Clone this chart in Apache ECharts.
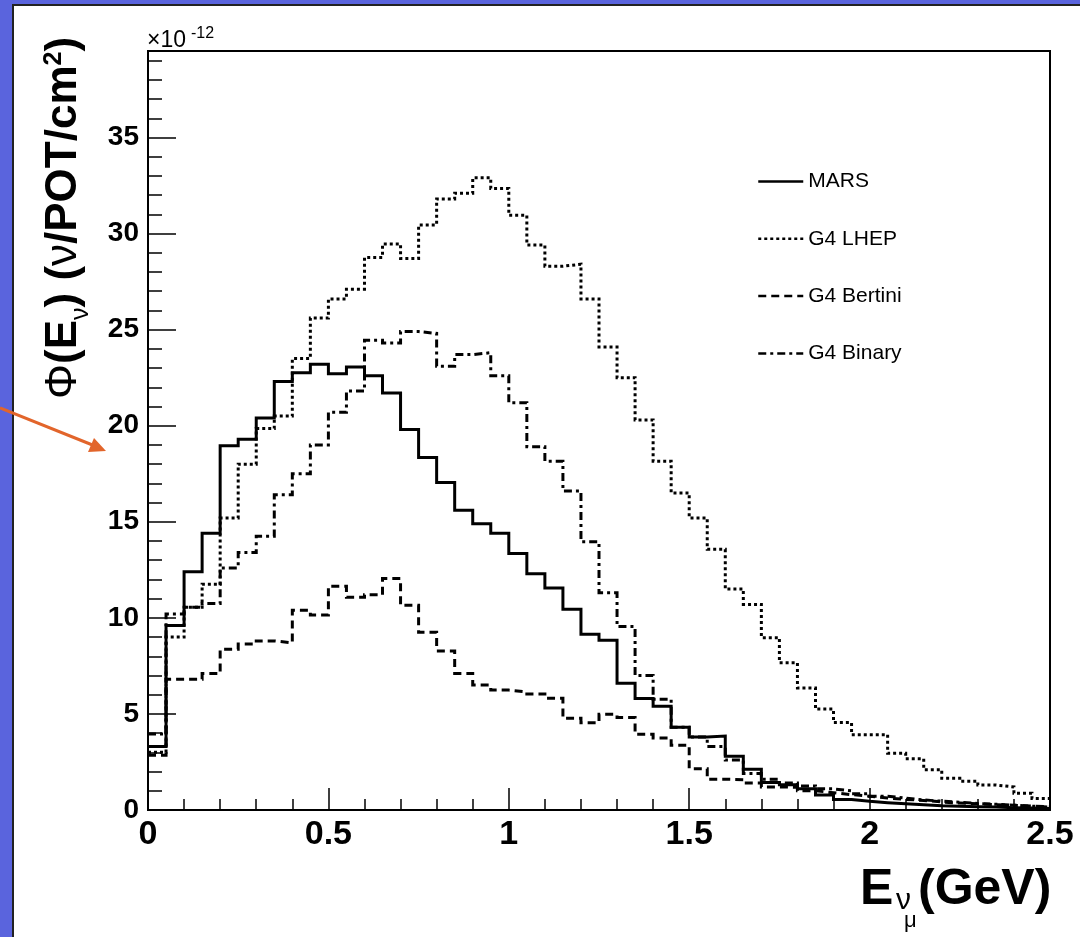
<!DOCTYPE html>
<html>
<head>
<meta charset="utf-8">
<script src="https://cdn.jsdelivr.net/npm/echarts@6/dist/echarts.min.js"></script>
<style>
  html, body { margin: 0; padding: 0; background: #5a64dd; }
  #chart { width: 1080px; height: 937px; }
</style>
</head>
<body>
<div id="chart"></div>
<script>
// ---- Data (flux per 0.05 GeV bin, units of 1e-12 nu/POT/cm^2) ----
const BIN_WIDTH = 0.05;
const N_BINS = 50;
const xTickLabels = ['0', '0.5', '1', '1.5', '2', '2.5'];
const yTickLabels = ['0', '5', '10', '15', '20', '25', '30', '35'];
const seriesNames = ['MARS', 'G4 LHEP', 'G4 Bertini', 'G4 Binary'];

const mars = [3.3, 9.6, 12.4, 14.4, 18.95, 19.3, 20.4, 22.3, 22.75, 23.2,
  22.7, 23.05, 22.6, 21.7, 19.8, 18.35, 17.05, 15.6, 14.9, 14.4,
  13.35, 12.3, 11.55, 10.45, 9.15, 8.83, 6.6, 5.8, 5.4, 4.3,
  3.8, 3.85, 2.8, 2.12, 1.43, 1.32, 1.1, 0.78, 0.55, 0.45,
  0.38, 0.32, 0.27, 0.22, 0.2, 0.17, 0.15, 0.12, 0.1, 0.08];

const lhep = [3.0, 9.0, 10.55, 11.75, 15.2, 18.0, 19.85, 20.5, 23.5, 25.6,
  26.6, 27.1, 28.75, 29.45, 28.7, 30.45, 31.8, 32.1, 32.9, 32.35,
  30.95, 29.4, 28.3, 28.4, 26.6, 24.1, 22.5, 20.3, 18.15, 16.5,
  15.2, 13.57, 11.5, 10.7, 8.97, 7.66, 6.35, 5.25, 4.55, 3.92,
  3.92, 2.95, 2.67, 2.1, 1.65, 1.5, 1.3, 1.2, 0.87, 0.6];

const bertini = [2.85, 6.8, 6.8, 7.1, 8.36, 8.64, 8.8, 8.7, 10.4, 10.15,
  11.65, 11.07, 11.2, 12.05, 10.65, 9.25, 8.28, 7.11, 6.5, 6.24,
  6.15, 6.04, 5.81, 4.77, 4.54, 4.98, 4.82, 3.94, 3.75, 3.37,
  2.15, 1.6, 1.58, 1.4, 1.2, 1.18, 1.0, 0.9, 0.8, 0.72,
  0.62, 0.55, 0.5, 0.42, 0.36, 0.32, 0.28, 0.25, 0.2, 0.18];

const binary = [3.95, 10.2, 10.55, 10.75, 12.6, 13.4, 14.25, 16.4, 17.5, 19.0,
  20.7, 21.8, 24.45, 24.3, 24.9, 24.8, 23.1, 23.7, 23.8, 22.6,
  21.2, 18.9, 18.15, 16.6, 13.96, 11.3, 9.55, 7.0, 5.76, 4.3,
  3.8, 3.3, 2.6, 1.9, 1.6, 1.4, 1.25, 1.1, 1.0, 0.85,
  0.72, 0.62, 0.52, 0.46, 0.4, 0.34, 0.3, 0.25, 0.2, 0.15];

// ---- Build histogram step data from bin edges ----
const binEdges = Array.from({length: N_BINS + 1}, (_, i) => +(i * BIN_WIDTH).toFixed(2));
function toSteps(vals) {
  const pts = vals.map((v, i) => [binEdges[i], v]);
  pts.push([binEdges[N_BINS], vals[vals.length - 1]]);
  return pts;
}

const FONT = '"Liberation Sans", Arial, Helvetica, sans-serif';
const chart = echarts.init(document.getElementById('chart'), null, {renderer: 'canvas'});

const lineStyles = [
  {type: 'solid', width: 3},
  {type: [3, 3], width: 3},
  {type: [8, 5], width: 3},
  {type: [8, 4, 3, 4], width: 3}
];
const allData = [mars, lhep, bertini, binary];

const series = seriesNames.map((name, k) => ({
  name: name,
  type: 'line',
  step: 'end',
  symbol: 'none',
  data: toSteps(allData[k]),
  lineStyle: Object.assign({color: '#000', cap: 'butt', join: 'miter'}, lineStyles[k]),
  itemStyle: {color: '#000'},
  z: 5 + k
}));

// ---- y-axis title built from measured text pieces (rotated group) ----
const mctx = document.createElement('canvas').getContext('2d');
function textW(t, font) { mctx.font = font; return mctx.measureText(t).width; }
const TF = 44, SF = 25;
const yTitleParts = [
  {t: 'Φ', font: TF + 'px ' + FONT, dy: -15},
  {t: '(E', font: 'bold ' + TF + 'px ' + FONT, dy: -15},
  {t: 'ν', font: SF + 'px ' + FONT, dy: 2},
  {t: ') (', font: 'bold ' + TF + 'px ' + FONT, dy: -15},
  {t: 'ν', font: TF + 'px ' + FONT, dy: -15},
  {t: '/POT/cm', font: 'bold ' + TF + 'px ' + FONT, dy: -15},
  {t: '2', font: 'bold ' + SF + 'px ' + FONT, dy: -25},
  {t: ')', font: 'bold ' + TF + 'px ' + FONT, dy: -15}
];
const widths = yTitleParts.map(p => textW(p.t, p.font));
const totalW = widths.reduce((a, b) => a + b, 0);
let cx = -totalW / 2;
const yTitleChildren = yTitleParts.map((p, i) => {
  const el = {type: 'text', x: cx, y: p.dy,
    style: {text: p.t, font: p.font, fill: '#000', textAlign: 'left', textVerticalAlign: 'middle'}};
  cx += widths[i];
  return el;
});

const option = {
  animation: false,
  backgroundColor: 'transparent',
  grid: {
    left: 148, right: 30, top: 51, bottom: 127,
    show: true, borderColor: '#000', borderWidth: 2, backgroundColor: 'transparent'
  },
  legend: {
    orient: 'vertical',
    left: 757, top: 171, padding: 0,
    itemWidth: 45, itemHeight: 16,
    itemGap: 36.3,
    data: seriesNames,
    textStyle: {fontFamily: FONT, fontSize: 21, color: '#000'},
    itemStyle: {color: 'rgba(0,0,0,0)', borderColor: 'rgba(0,0,0,0)', borderWidth: 0},
    lineStyle: {width: 2.5}
  },
  xAxis: {
    type: 'value', min: 0, max: 2.5, interval: 0.5,
    axisLine: {show: true, lineStyle: {color: '#000', width: 2}},
    axisTick: {show: true, inside: true, length: 22, lineStyle: {color: '#000', width: 1.5}},
    minorTick: {show: true, splitNumber: 5, length: 11, lineStyle: {color: '#000', width: 1.5}},
    splitLine: {show: false},
    minorSplitLine: {show: false},
    axisLabel: {
      margin: 8, color: '#000', fontFamily: FONT, fontWeight: 'bold', fontSize: 34,
      formatter: v => xTickLabels[Math.round(v / 0.5)] || ''
    }
  },
  yAxis: [
    {
      type: 'value', min: 0, max: 39.5, interval: 1, position: 'left',
      axisLine: {show: true, lineStyle: {color: '#000', width: 2}},
      axisTick: {show: true, inside: true, length: 14, lineStyle: {color: '#000', width: 1.5}},
      axisLabel: {show: false},
      splitLine: {show: false}
    },
    {
      type: 'value', min: 0, max: 39.5, interval: 5, position: 'left', offset: 0,
      axisLine: {show: false},
      axisTick: {show: true, inside: true, length: 28, lineStyle: {color: '#000', width: 1.5}},
      splitLine: {show: false},
      axisLabel: {
        margin: 9, color: '#000', fontFamily: FONT, fontWeight: 'bold', fontSize: 28,
        formatter: v => (Math.abs(v % 5) < 1e-9 ? (yTickLabels[Math.round(v / 5)] || '') : '')
      }
    }
  ],
  series: series,
  graphic: [
    // white slide panel
    {type: 'rect', z: -10, silent: true,
     shape: {x: 13, y: 5, width: 1100, height: 960},
     style: {fill: '#fff', stroke: '#222', lineWidth: 2}},
    // x10^-12 exponent
    {type: 'text', x: 147, y: 41, z: 20,
     style: {text: '×10', font: '23px ' + FONT, fill: '#000', textVerticalAlign: 'middle', textAlign: 'left'}},
    {type: 'text', x: 191, y: 34, z: 20,
     style: {text: '-12', font: '16px ' + FONT, fill: '#000', textVerticalAlign: 'middle', textAlign: 'left'}},
    // y axis title (rotated, reads bottom to top)
    {type: 'group', x: 79, y: 218, rotation: Math.PI / 2, z: 20, children: yTitleChildren},
    // x axis title
    {type: 'text', x: 860, y: 890, z: 20,
     style: {text: 'E', font: 'bold 50px ' + FONT, fill: '#000', textVerticalAlign: 'middle', textAlign: 'left'}},
    {type: 'text', x: 896, y: 901, z: 20,
     style: {text: 'ν', font: '30px ' + FONT, fill: '#000', textVerticalAlign: 'middle', textAlign: 'left'}},
    {type: 'text', x: 904, y: 921, z: 20,
     style: {text: 'μ', font: '22px ' + FONT, fill: '#000', textVerticalAlign: 'middle', textAlign: 'left'}},
    {type: 'text', x: 918, y: 890, z: 20,
     style: {text: '(GeV)', font: 'bold 50px ' + FONT, fill: '#000', textVerticalAlign: 'middle', textAlign: 'left'}},
    // orange annotation arrow
    {type: 'line', z: 30, shape: {x1: 0, y1: 408, x2: 95, y2: 446},
     style: {stroke: '#e2652b', lineWidth: 3}},
    {type: 'polygon', z: 30, shape: {points: [[106, 451], [88, 452], [94, 438]]},
     style: {fill: '#e2652b'}}
  ]
};

chart.setOption(option);
</script>
</body>
</html>
